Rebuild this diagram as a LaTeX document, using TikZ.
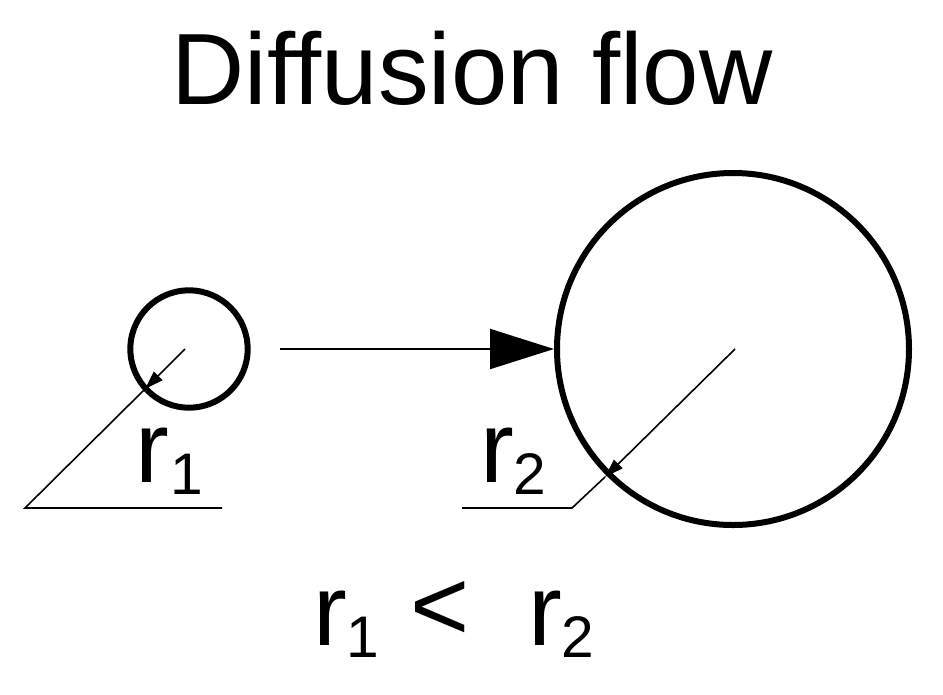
\documentclass[tikz,border=0pt]{standalone}
\usepackage{fontspec}
\setmainfont{Liberation Sans}
\usetikzlibrary{arrows.meta}
\begin{document}
\begin{tikzpicture}[x=0.75pt,y=-0.75pt,
  circ/.style={draw,line width=4.5pt,inner sep=0},
  thin/.style={line width=1.2pt},
  lbl/.style={font=\fontsize{76}{80}\selectfont,inner sep=0},
  sub/.style={font=\fontsize{44}{46}\selectfont,inner sep=0}]
\useasboundingbox (0,0) rectangle (943,694);
\node[lbl] (title) at (472,68) {Diffusion flow};
\node[circ,circle,minimum size=88pt] (c1) at (189,349) {};
\node[circ,circle,minimum size=264pt] (c2) at (733,349) {};
\coordinate (a1) at (280,349);
\draw[line width=1.5pt,-{Triangle[length=48pt,width=30pt]}] (a1) -- (c2.west);
% r1
\coordinate (o1) at (185,349);
\coordinate (p1) at (145,389);
\coordinate (k1) at (25,508);
\coordinate (e1) at (222,508);
\draw[thin,-{Triangle[length=14pt,width=9pt]}] (o1) -- (p1);
\draw[thin] (p1) -- (k1) -- (e1);
\node[lbl,anchor=base] (r1) at (152,482) {r};
\node[sub,anchor=base] (s1) at (187,494) {1};
% r2
\coordinate (o2) at (735,349);
\coordinate (p2) at (605,477);
\coordinate (k2) at (572,508);
\coordinate (e2) at (462,508);
\draw[thin,-{Triangle[length=14pt,width=9pt]}] (o2) -- (p2);
\draw[thin] (p2) -- (k2) -- (e2);
\node[lbl,anchor=base] (r2) at (497,482) {r};
\node[sub,anchor=base] (s2) at (530,494) {2};
% bottom
\node[lbl,anchor=base] (b1) at (330,645) {r};
\node[sub,anchor=base] (b1s) at (363,657) {1};
\node[lbl,anchor=base] (lt) at (440,640) {<};
\node[lbl,anchor=base] (b2) at (545,645) {r};
\node[sub,anchor=base] (b2s) at (578,657) {2};
\end{tikzpicture}
\end{document}
